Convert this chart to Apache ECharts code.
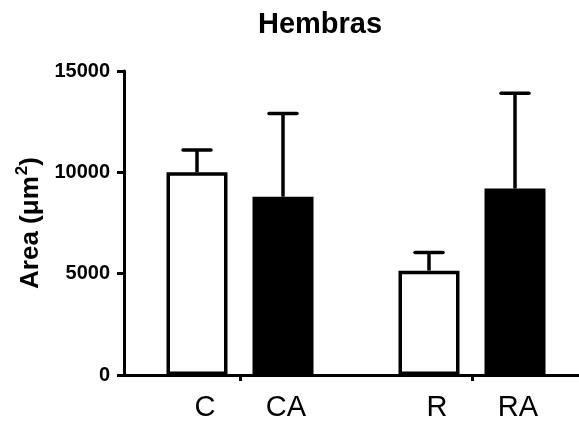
<!DOCTYPE html>
<html>
<head>
<meta charset="utf-8">
<script src="https://cdn.jsdelivr.net/npm/echarts@6/dist/echarts.min.js"></script>
<style>
  html, body { margin: 0; padding: 0; background: #fff; }
  #chart { width: 579px; height: 421px; }
</style>
</head>
<body>
<div id="chart"></div>
<script>
// groups on the x axis (one tick per group)
const groups = ['C', 'R']
// bar labels, white bar then black bar in each group
const whiteLabels = ['C', 'R']
const blackLabels = ['CA', 'RA']
// mean values (µm²)
const whiteMeans = [10000, 5150]
const blackMeans = [8800, 9200]
// upper error (bar only drawn upward)
const whiteErr = [1100, 900]
const blackErr = [4100, 4700]
// y axis ticks
const yMin = 0
const yMax = 15000
const yStep = 5000

const FONT = '"Liberation Sans", Arial, sans-serif'
const barWidth = 61
const gapPx = 25

const chart = echarts.init(document.getElementById('chart'))

function errorItem(dx) {
  return function (params, api) {
    const base = api.coord([api.value(0), api.value(1)])
    const top = api.coord([api.value(0), api.value(1) + api.value(2)])
    const x = base[0] + dx
    const style = { stroke: '#000', lineWidth: 3.5, lineCap: 'butt' }
    return {
      type: 'group',
      children: [
        { type: 'line', shape: { x1: x, y1: base[1], x2: x, y2: top[1] }, style: style },
        { type: 'line', shape: { x1: x - 14, y1: top[1], x2: x + 14, y2: top[1] }, style: Object.assign({}, style, { lineCap: 'round' }) }
      ]
    }
  }
}

chart.setOption({
  backgroundColor: '#fff',
  animation: false,
  title: {
    text: 'Hembras',
    left: 253,
    top: 5,
    textStyle: { fontFamily: FONT, fontSize: 29, fontWeight: 'bold', color: '#000' }
  },
  grid: { left: 124, right: -9, top: 71, bottom: 46, outerBoundsMode: 'none', containLabel: false },
  xAxis: {
    type: 'category',
    data: groups,
    axisLine: { lineStyle: { color: '#000', width: 3 } },
    axisTick: { show: true, alignWithLabel: true, length: 6, lineStyle: { color: '#000', width: 3 } },
    axisLabel: { show: false },
    splitLine: { show: false }
  },
  yAxis: {
    type: 'value',
    min: yMin,
    max: yMax,
    interval: yStep,
    name: '{t|Area (\u03bcm}{s|2}{t|)}',
    nameLocation: 'middle',
    nameRotate: 90,
    nameGap: 76,
    nameTextStyle: {
      rich: {
        t: { fontFamily: FONT, fontSize: 26, fontWeight: 'bold', color: '#000', lineHeight: 30, verticalAlign: 'bottom' },
        s: { fontFamily: FONT, fontSize: 17, fontWeight: 'bold', color: '#000', lineHeight: 30, verticalAlign: 'top', padding: [0, 0, 0, 1] }
      }
    },
    axisLine: { show: true, lineStyle: { color: '#000', width: 3 } },
    axisTick: { show: true, length: 7, lineStyle: { color: '#000', width: 3 } },
    axisLabel: { margin: 14, fontFamily: FONT, fontSize: 20, fontWeight: 'bold', color: '#000', formatter: v => String(v) },
    splitLine: { show: false }
  },
  series: [
    {
      type: 'bar',
      data: whiteMeans,
      barWidth: barWidth,
      barGap: (gapPx / barWidth * 100) + '%',
      itemStyle: { color: '#fff', borderColor: '#000', borderWidth: 3.5 },
      label: {
        show: true,
        position: 'bottom',
        distance: 18,
        offset: [8, 0],
        formatter: p => whiteLabels[p.dataIndex],
        fontFamily: FONT,
        fontSize: 29,
        color: '#000'
      }
    },
    {
      type: 'bar',
      data: blackMeans,
      barWidth: barWidth,
      itemStyle: { color: '#000', borderColor: '#000', borderWidth: 3.5 },
      label: {
        show: true,
        position: 'bottom',
        distance: 18,
        offset: [3, 0],
        formatter: p => blackLabels[p.dataIndex],
        fontFamily: FONT,
        fontSize: 29,
        color: '#000'
      }
    },
    {
      type: 'custom',
      renderItem: errorItem(-(barWidth + gapPx) / 2),
      data: whiteMeans.map((v, i) => [i, v, whiteErr[i]]),
      z: 3
    },
    {
      type: 'custom',
      renderItem: errorItem((barWidth + gapPx) / 2),
      data: blackMeans.map((v, i) => [i, v, blackErr[i]]),
      z: 3
    }
  ]
})
</script>
</body>
</html>
